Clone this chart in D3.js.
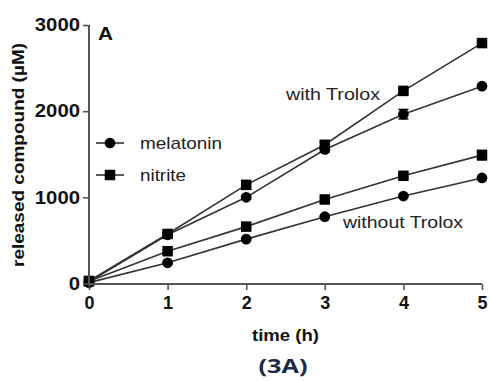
<!DOCTYPE html>
<html>
<head>
<meta charset="utf-8">
<script src="https://cdn.jsdelivr.net/npm/d3@7"></script>
<style>
  body { margin: 0; background: #fff; }
  svg text { font-family: "Liberation Sans", Arial, sans-serif; }
</style>
</head>
<body>
<div id="chart"></div>
<script>
// time points (h)
var time = [0, 1, 2, 3, 4, 5];

// released compound (µM)
var melWith = [20, 565, 1000, 1555, 1965, 2290];
var nitWith = [30, 575, 1145, 1610, 2235, 2790];
var melWithout = [10, 240, 515, 775, 1015, 1225];
var nitWithout = [25, 375, 660, 975, 1250, 1490];

// error bars (SD)
var melWithErr = [0, 20, 20, 30, 55, 20];
var nitWithErr = [0, 25, 20, 35, 20, 45];
var melWithoutErr = [0, 10, 10, 10, 10, 10];
var nitWithoutErr = [0, 15, 15, 15, 20, 55];

var yTicks = [0, 1000, 2000, 3000];
var xTicks = [0, 1, 2, 3, 4, 5];

var series = [
  {name: 'melatonin', shape: 'circle', vals: melWith, err: melWithErr},
  {name: 'nitrite', shape: 'square', vals: nitWith, err: nitWithErr},
  {name: 'melatonin', shape: 'circle', vals: melWithout, err: melWithoutErr},
  {name: 'nitrite', shape: 'square', vals: nitWithout, err: nitWithoutErr}
];

var svg = d3.select('#chart').append('svg')
  .attr('width', 490)
  .attr('height', 381);

var x = d3.scaleLinear().domain([0, 5]).range([89, 482]);
var y = d3.scaleLinear().domain([0, 3000]).range([283.5, 25]);

// helper: text stretched to the reference width
function label(px, py, str, size, len, opts){
  opts = opts || {};
  var t = svg.append('text')
    .attr('x', px).attr('y', py)
    .attr('text-anchor', opts.anchor || 'start')
    .style('font-size', size + 'px')
    .style('font-weight', opts.bold ? 'bold' : 'normal')
    .attr('fill', opts.fill || '#222')
    .text(str);
  if (opts.family) t.style('font-family', opts.family);
  if (len) t.attr('textLength', len).attr('lengthAdjust', 'spacingAndGlyphs');
  return t;
}

// series lines
var line = d3.line()
  .x(function(d){ return x(d[0]); })
  .y(function(d){ return y(d[1]); });

series.forEach(function(s){
  var pts = time.map(function(t, i){ return [t, s.vals[i]]; });
  svg.append('path')
    .attr('d', line(pts))
    .attr('fill', 'none')
    .attr('stroke', '#333')
    .attr('stroke-width', 1.6);

  // error bars
  var g = svg.append('g').attr('stroke', '#000').attr('stroke-width', 1.5);
  pts.forEach(function(p, i){
    var e = s.err[i];
    if (!e) return;
    g.append('line')
      .attr('x1', x(p[0])).attr('x2', x(p[0]))
      .attr('y1', y(p[1] - e)).attr('y2', y(p[1] + e));
    [p[1] - e, p[1] + e].forEach(function(v){
      g.append('line')
        .attr('x1', x(p[0]) - 5).attr('x2', x(p[0]) + 5)
        .attr('y1', y(v)).attr('y2', y(v));
    });
  });

  var sym = s.shape == 'circle' ? d3.symbolCircle : d3.symbolSquare;
  var size = s.shape == 'circle' ? 90 : 110;
  svg.append('g').selectAll('path')
    .data(pts).enter()
    .append('path')
    .attr('d', d3.symbol().type(sym).size(size))
    .attr('transform', function(d){ return 'translate(' + x(d[0]) + ',' + y(d[1]) + ')'; })
    .attr('fill', '#000');
});

// axes
var xAxis = svg.append('g')
  .attr('transform', 'translate(0,284)')
  .call(d3.axisBottom(x).tickValues(xTicks).tickSize(6).tickPadding(6).tickFormat(d3.format('d')));
var yAxis = svg.append('g')
  .attr('transform', 'translate(89,0)')
  .call(d3.axisLeft(y).tickValues(yTicks).tickSize(6).tickPadding(3).tickFormat(d3.format('d')));

[xAxis, yAxis].forEach(function(a){
  a.select('.domain').attr('stroke', '#555').attr('stroke-width', 2);
  a.selectAll('.tick line').attr('stroke', '#555').attr('stroke-width', 1.6);
  a.selectAll('.tick text')
    .attr('fill', '#111')
    .style('font-size', '18px')
    .style('font-weight', 'bold');
});
yAxis.selectAll('.tick text').attr('textLength', function(d){ return String(d).length * 11.3; })
  .attr('lengthAdjust', 'spacingAndGlyphs');
xAxis.select('.domain').attr('d', 'M89,0H482');
yAxis.select('.domain').attr('d', 'M0,25V284');

// axis titles
label(285.5, 341, 'time (h)', 17, 67, {anchor: 'middle', bold: true, fill: '#111'});

svg.append('text')
  .attr('transform', 'translate(24,155) rotate(-90)')
  .attr('text-anchor', 'middle')
  .style('font-size', '16.5px').style('font-weight', 'bold')
  .attr('fill', '#111')
  .attr('textLength', 224).attr('lengthAdjust', 'spacingAndGlyphs')
  .text('released compound (µM)');

label(98, 40, 'A', 18, 15, {bold: true, fill: '#111'});

// annotations
label(286, 100, 'with Trolox', 17, 94);
label(343, 228, 'without Trolox', 17, 120);

// legend
var legend = svg.append('g');
[{name: 'melatonin', shape: 'circle', y: 143, w: 82}, {name: 'nitrite', shape: 'square', y: 175, w: 46}].forEach(function(l){
  legend.append('line')
    .attr('x1', 96).attr('x2', 124)
    .attr('y1', l.y).attr('y2', l.y)
    .attr('stroke', '#333').attr('stroke-width', 1.6);
  legend.append('path')
    .attr('d', d3.symbol().type(l.shape == 'circle' ? d3.symbolCircle : d3.symbolSquare).size(l.shape == 'circle' ? 90 : 110))
    .attr('transform', 'translate(110,' + l.y + ')')
    .attr('fill', '#000');
  label(140, l.y + 6, l.name, 17, l.w);
});

// caption
label(283, 373, '(3A)', 20, 49, {anchor: 'middle', bold: true, fill: '#1c2a48', family: '"Open Sans", sans-serif'});
</script>
</body>
</html>
